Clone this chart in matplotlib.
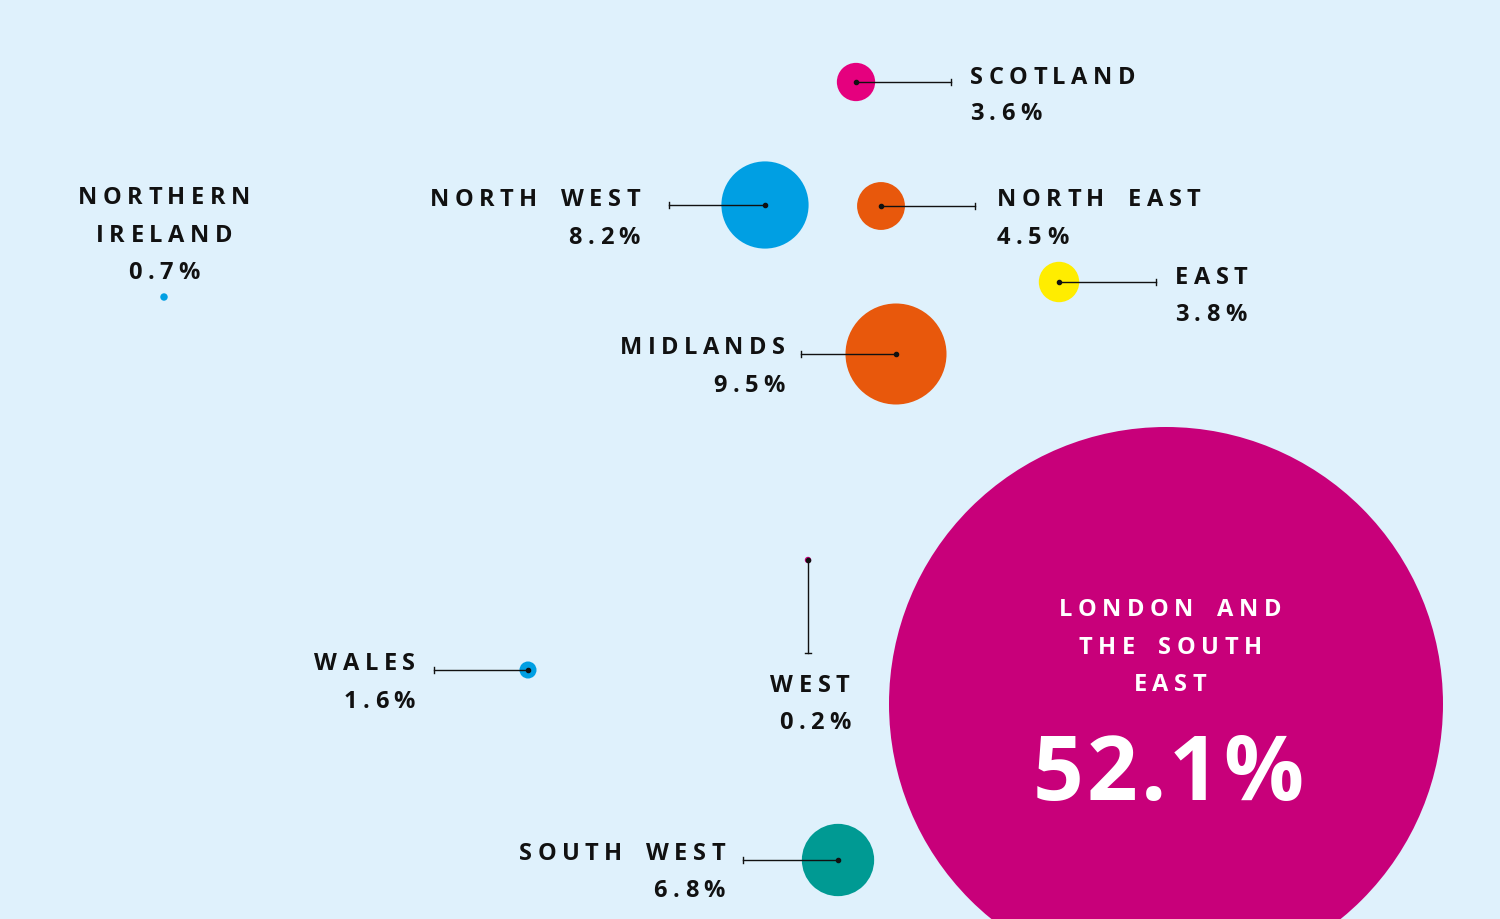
import matplotlib
matplotlib.use("Agg")
import matplotlib.pyplot as plt
from matplotlib.patches import Circle
from matplotlib.font_manager import FontProperties

regions = ["SCOTLAND", "NORTH WEST", "NORTH EAST", "EAST", "MIDLANDS",
           "NORTHERN IRELAND", "WALES", "WEST", "SOUTH WEST", "LONDON AND THE SOUTH EAST"]
values = [3.6, 8.2, 4.5, 3.8, 9.5, 0.7, 1.6, 0.2, 6.8, 52.1]
cx = [856, 765, 881, 1059, 896, 164, 528, 808, 838, 1166]
cy = [83, 206, 207, 283, 355, 298, 671, 561, 861, 705]
colors = ["#e5007e", "#009fe3", "#e8580c", "#ffed00", "#e8580c",
          "#009fe3", "#009fe3", "#f6c6dc", "#009a93", "#c8007a"]

W, H = 1500, 920
fig = plt.figure(figsize=(15, 9.2), dpi=100)
ax = fig.add_axes([0, 0, 1, 1])
fig.patch.set_facecolor("#dff1fc")
ax.set_facecolor("#dff1fc")
ax.set_xlim(0, W); ax.set_ylim(H, 0); ax.set_aspect("equal"); ax.axis("off")
renderer = fig.canvas.get_renderer()

FAM = ["Open Sans", "DejaVu Sans"]

def spaced(x, y, s, size, ha="left", spacing=5.5, color="#111111"):
    fp = FontProperties(family=FAM, weight="bold", size=size)
    widths = []
    for ch in s:
        if ch == " ":
            w, _, _ = renderer.get_text_width_height_descent("n", fp, ismath=False)
            widths.append(w * 0.8)
        else:
            w, _, _ = renderer.get_text_width_height_descent(ch, fp, ismath=False)
            widths.append(w)
    total = sum(widths) + spacing * (len(s) - 1)
    x0 = x if ha == "left" else (x - total if ha == "right" else x - total / 2)
    for ch, w in zip(s, widths):
        if ch != " ":
            ax.text(x0, y, ch, fontproperties=fp, color=color, ha="left", va="baseline")
        x0 += w + spacing

scale = 277 / 52.1
for i, v in enumerate(values):
    r = max(v * scale, 2.5)
    ec = "#c8007a" if regions[i] == "WEST" else "none"
    ax.add_patch(Circle((cx[i], cy[i]), r, facecolor=colors[i], edgecolor=ec, lw=1, zorder=2))
    if i < 9 and regions[i] not in ("NORTHERN IRELAND",):
        ax.plot(cx[i], cy[i], "o", color="#111111", ms=3, zorder=4)

# connector lines: (x_end) horizontal from centre
lines = {0: 951, 1: 669, 2: 975, 3: 1156, 4: 801, 6: 434, 8: 743}
for i, xe in lines.items():
    ax.plot([cx[i], xe], [cy[i], cy[i]], color="#111111", lw=1, zorder=3)
    ax.plot([xe, xe], [cy[i] - 3, cy[i] + 3], color="#111111", lw=1, zorder=3)
ax.plot([808, 808], [563, 654], color="#111111", lw=1, zorder=3)
ax.plot([805, 811], [654, 654], color="#111111", lw=1, zorder=3)

FS = 17
def pct(v): return f"{v}%"
spaced(970, 84, "SCOTLAND", FS); spaced(970, 120, pct(3.6), FS)
spaced(640, 206, "NORTH WEST", FS, "right"); spaced(640, 244, pct(8.2), FS, "right")
spaced(997, 206, "NORTH EAST", FS); spaced(997, 244, pct(4.5), FS)
spaced(1175, 284, "EAST", FS); spaced(1175, 321, pct(3.8), FS)
spaced(785, 354, "MIDLANDS", FS, "right"); spaced(785, 392, pct(9.5), FS, "right")
spaced(164, 204, "NORTHERN", FS, "center"); spaced(164, 242, "IRELAND", FS, "center")
spaced(164, 279, pct(0.7), FS, "center")
spaced(415, 670, "WALES", FS, "right"); spaced(415, 708, pct(1.6), FS, "right")
spaced(810, 692, "WEST", FS, "center"); spaced(815, 729, pct(0.2), FS, "center")
spaced(725, 860, "SOUTH WEST", FS, "right"); spaced(725, 897, pct(6.8), FS, "right")
spaced(1170, 616, "LONDON AND", FS, "center", color="white")
spaced(1170, 654, "THE SOUTH", FS, "center", color="white")
spaced(1170, 691, "EAST", FS, "center", color="white")
spaced(1168, 800, pct(52.1), 64, "center", spacing=3, color="white")

fig.savefig("out.png", dpi=100, facecolor=fig.get_facecolor())
